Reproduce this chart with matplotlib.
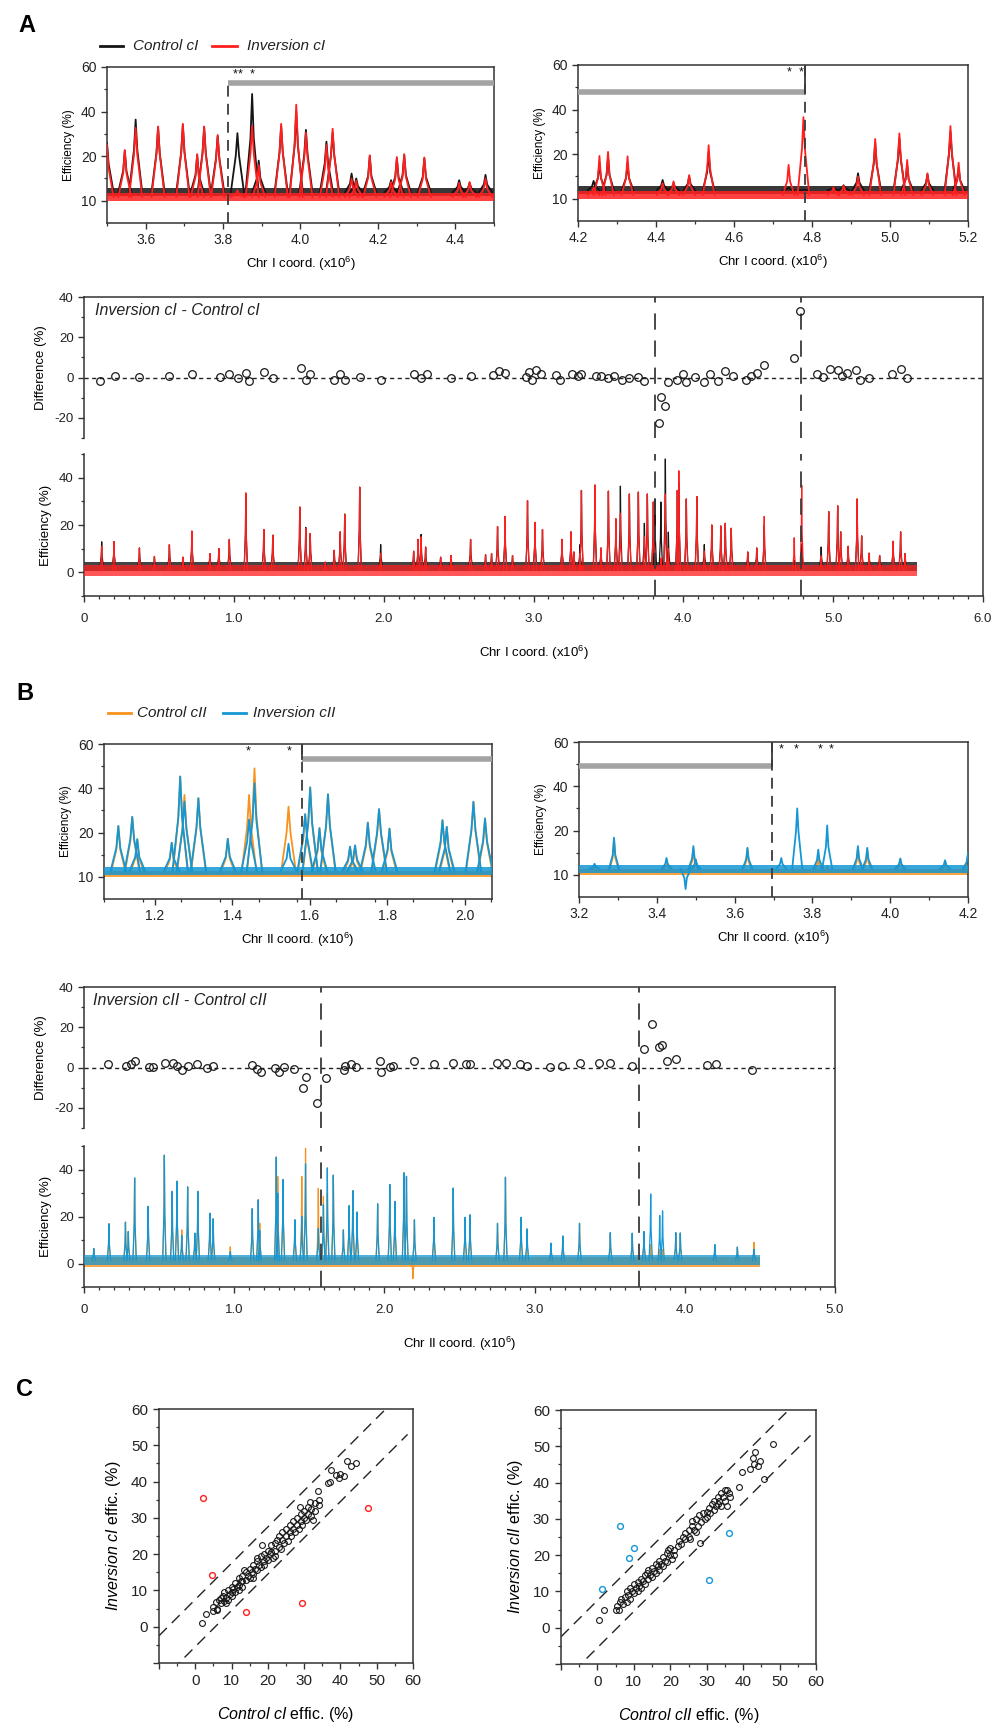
import numpy as np
import matplotlib
matplotlib.use("Agg")
import matplotlib.pyplot as plt
from matplotlib.lines import Line2D

plt.rcParams['font.family'] = ['Liberation Sans', 'DejaVu Sans']
plt.rcParams['mathtext.fontset'] = 'custom'
plt.rcParams['mathtext.rm'] = 'Liberation Sans'
plt.rcParams['mathtext.it'] = 'Liberation Sans:italic'
plt.rcParams['mathtext.default'] = 'regular'
plt.rcParams['axes.unicode_minus'] = False

# ------------------------------------------------------------------ data
# Panel A, zoom on left breakpoint (Chr I 3.5-4.5 Mb): peak positions / heights (%)
a1_pos = [3.500, 3.546, 3.574, 3.632, 3.696, 3.733, 3.751, 3.786, 3.837, 3.875, 3.892, 3.950, 3.989,
          4.014, 4.067, 4.083, 4.132, 4.144, 4.179, 4.234, 4.249, 4.268, 4.320, 4.410, 4.437, 4.478]
a1_ctrl = [26.0, 22.5, 36.4, 33.0, 34.0, 20.5, 33.0, 29.0, 30.3, 47.9, 19.0, 33.5, 40.0,
           31.8, 26.5, 30.5, 16.1, 15.0, 20.0, 14.6, 19.5, 20.5, 19.5, 14.6, 14.0, 15.8]
a1_inv = [25.0, 22.7, 32.7, 33.3, 34.5, 20.9, 33.3, 29.5, 12.3, 33.6, 18.0, 34.5, 43.1,
          30.5, 25.0, 32.3, 15.0, 14.5, 20.4, 14.2, 19.8, 20.9, 19.7, 14.0, 14.2, 15.0]
# Panel A, zoom on right breakpoint (Chr I 4.2-5.2 Mb)
a2_pos = [4.240, 4.255, 4.277, 4.327, 4.417, 4.445, 4.485, 4.535, 4.740, 4.778,
          4.855, 4.881, 4.918, 4.962, 5.024, 5.044, 5.096, 5.155, 5.176]
a2_ctrl = [14.0, 18.0, 19.5, 18.0, 14.2, 13.5, 15.0, 21.0, 12.5, 12.0,
           12.6, 13.0, 15.7, 25.0, 27.0, 17.5, 15.5, 30.0, 17.0]
a2_inv = [12.5, 19.6, 21.0, 19.5, 13.5, 13.9, 15.3, 24.0, 17.6, 36.6,
          12.6, 13.0, 15.0, 26.8, 29.3, 18.7, 15.7, 32.6, 18.1]
# Panel A, whole chromosome I
am_pos = [0.118, 0.20, 0.37, 0.47, 0.57, 0.66, 0.72, 0.84, 0.90, 0.97,
          1.08, 1.20, 1.26, 1.44, 1.48, 1.51, 1.61, 1.67, 1.71, 1.74,
          1.84, 1.98, 2.20, 2.23, 2.25, 2.28, 2.38, 2.45, 2.58, 2.68,
          2.72, 2.76, 2.81, 2.86, 2.96, 3.01, 3.06, 3.19, 3.25, 3.27,
          3.31, 3.32, 3.41, 3.45, 3.50, 3.55, 3.58, 3.64, 3.70, 3.74,
          3.76, 3.80, 3.81, 3.85, 3.88, 3.90, 3.96, 3.97, 4.02, 4.09,
          4.14, 4.19, 4.25, 4.28, 4.32, 4.43, 4.49, 4.54, 4.74, 4.79,
          4.92, 4.97, 5.03, 5.05, 5.10, 5.16, 5.19, 5.24, 5.31, 5.40,
          5.45, 5.48]
am_ctrl = [12.9, 13.0, 10.3, 6.7, 11.7, 6.4, 17.4, 7.9, 10.0, 13.9,
           33.0, 18.1, 15.7, 27.6, 19.0, 16.4, 4.3, 9.3, 17.1, 24.6,
           36.0, 11.7, 8.9, 13.9, 16.0, 10.7, 6.4, 7.1, 13.9, 7.4,
           7.9, 19.3, 23.6, 7.1, 30.3, 21.1, 18.1, 13.9, 17.1, 8.6,
           11.7, 34.6, 36.9, 10.3, 34.3, 22.6, 36.4, 33.1, 33.9, 20.7,
           33.1, 29.7, 31.0, 29.7, 47.9, 17.0, 34.6, 38.0, 31.0, 32.0,
           11.7, 20.0, 19.6, 20.7, 18.6, 8.6, 10.3, 20.0, 5.0, 12.0,
           10.7, 25.7, 28.1, 17.1, 11.0, 31.0, 15.4, 8.1, 7.1, 13.1,
           17.1, 7.9]
am_inv = [11.0, 13.0, 10.3, 6.7, 11.7, 6.4, 17.4, 7.9, 10.0, 13.9,
          33.6, 18.1, 15.7, 27.6, 18.6, 16.4, 4.3, 9.3, 17.1, 24.6,
          36.0, 8.0, 8.9, 13.9, 15.0, 10.7, 6.4, 7.1, 13.9, 7.4,
          7.9, 19.3, 23.6, 7.1, 30.3, 21.1, 18.1, 13.9, 17.1, 8.6,
          8.0, 34.6, 36.9, 10.3, 34.3, 22.6, 25.0, 33.1, 33.9, 15.0,
          33.1, 29.7, 5.0, 6.0, 33.0, 10.0, 34.6, 42.9, 31.0, 32.0,
          9.0, 20.0, 19.6, 20.7, 18.6, 8.6, 10.3, 23.6, 14.6, 36.9,
          7.0, 25.7, 28.1, 17.1, 11.0, 31.0, 15.4, 8.1, 7.1, 13.1,
          17.1, 7.9]
# Panel A difference (Inversion cI - Control cI), %
ad_x = [0.11, 0.21, 0.37, 0.57, 0.72, 0.91, 0.97, 1.03, 1.08, 1.10,
        1.20, 1.26, 1.45, 1.48, 1.51, 1.67, 1.71, 1.74, 1.84, 1.98,
        2.20, 2.25, 2.29, 2.45, 2.58, 2.73, 2.77, 2.81, 2.95, 2.97,
        2.99, 3.02, 3.05, 3.15, 3.18, 3.26, 3.30, 3.32, 3.42, 3.45,
        3.50, 3.54, 3.59, 3.64, 3.70, 3.74, 3.85, 3.88, 3.84, 3.90,
        3.96, 4.00, 4.02, 4.08, 4.14, 4.18, 4.23, 4.28, 4.33, 4.42,
        4.45, 4.49, 4.54, 4.74, 4.78, 4.89, 4.93, 4.98, 5.03, 5.06,
        5.09, 5.15, 5.18, 5.24, 5.39, 5.45, 5.49]
ad_y = [-1.6, 1.0, 0.3, 1.0, 2.0, 0.3, 2.0, 0.0, 2.3, -1.5,
        3.0, 0.0, 4.8, -1.0, 2.0, -1.0, 1.6, -1.0, 0.3, -1.0,
        1.6, 0.0, 2.0, 0.0, 1.0, 1.3, 3.3, 2.3, 0.3, 3.0,
        -1.0, 3.6, 1.6, 1.3, -1.0, 2.0, 1.0, 1.6, 1.0, 1.0,
        0.0, 1.0, -1.0, -0.3, 0.3, -1.6, -9.8, -14.0, -22.6, -2.3,
        -1.0, 2.0, -2.3, 0.3, -2.3, 2.0, -1.6, 3.3, 1.0, -1.3,
        1.0, 2.3, 6.0, 9.8, 33.0, 1.6, 0.3, 4.4, 3.6, 1.0,
        2.3, 3.6, -1.0, 0.0, 1.6, 4.3, 0.0]

# Panel B, zoom on left breakpoint (Chr II 1.07-2.07 Mb)
bt1_pos = [1.105, 1.141, 1.154, 1.243, 1.265, 1.276, 1.312, 1.388, 1.443, 1.457, 1.545, 1.588,
           1.601, 1.625, 1.647, 1.704, 1.717, 1.750, 1.779, 1.806, 1.943, 1.954, 2.023, 2.053]
bt1_ctrl = [23.0, 27.1, 18.5, 17.7, 45.3, 37.0, 35.5, 18.6, 37.0, 49.0, 31.7, 28.3,
            40.4, 22.0, 37.3, 16.8, 17.1, 24.5, 30.6, 21.8, 25.6, 22.6, 33.9, 26.4]
bt1_inv = [23.0, 27.1, 18.5, 17.7, 45.3, 34.0, 35.5, 18.6, 25.9, 42.3, 17.5, 28.3,
           40.4, 22.0, 37.3, 16.8, 17.1, 24.5, 30.6, 21.8, 25.6, 22.6, 33.9, 26.4]
# Panel B, zoom on right breakpoint (Chr II 3.2-4.2 Mb)
bt2_pos = [3.240, 3.290, 3.425, 3.474, 3.494, 3.500, 3.633, 3.720, 3.761, 3.815, 3.838, 3.917,
           3.941, 4.026, 4.141, 4.200]
bt2_ctrl = [12.0, 18.0, 13.5, 10.5, 16.0, 13.5, 16.0, 10.5, 10.5, 14.0, 12.0, 16.0,
            15.5, 13.5, 13.0, 14.5]
bt2_inv = [12.5, 18.4, 13.8, 6.8, 16.5, 13.5, 16.1, 13.8, 30.0, 15.7, 22.3, 16.5,
           16.1, 13.7, 13.3, 14.9]
# Panel B, whole chromosome II
bm_pos = [0.065, 0.166, 0.276, 0.295, 0.337, 0.427, 0.535, 0.587, 0.619, 0.651,
          0.690, 0.738, 0.758, 0.838, 0.860, 0.974, 1.120, 1.160, 1.170, 1.280,
          1.290, 1.325, 1.404, 1.450, 1.475, 1.560, 1.594, 1.620, 1.660, 1.727,
          1.765, 1.790, 1.818, 1.955, 2.036, 2.070, 2.130, 2.147, 2.190, 2.200,
          2.330, 2.458, 2.537, 2.570, 2.753, 2.806, 2.910, 2.950, 3.109, 3.188,
          3.299, 3.504, 3.650, 3.728, 3.773, 3.833, 3.852, 3.940, 3.970, 4.200,
          4.350, 4.460]
bm_ctrl = [6.4, 16.9, 17.6, 13.6, 36.4, 24.3, 46.1, 30.7, 35.0, 14.3,
           32.6, 12.9, 30.7, 21.4, 19.0, 7.1, 23.3, 27.1, 17.1, 45.3,
           37.0, 35.7, 18.6, 37.0, 49.0, 31.9, 28.6, 30.0, 37.6, 14.3,
           24.6, 31.0, 21.9, 25.4, 33.6, 26.4, 38.6, 37.1, -6.4, 18.6,
           19.6, 32.1, 19.6, 20.7, 17.1, 36.7, 19.6, 14.7, 8.6, 11.7,
           17.1, 13.1, 12.9, 13.6, 8.0, 6.0, 6.0, 13.1, 13.0, 8.0,
           7.0, 9.0]
bm_inv = [6.4, 16.9, 17.6, 13.6, 36.4, 24.3, 46.1, 30.7, 35.0, 12.0,
          32.6, 12.9, 30.7, 21.4, 19.0, 5.0, 23.3, 27.1, 14.0, 45.3,
          30.0, 35.7, 18.6, 20.0, 42.4, 15.0, 25.0, 40.7, 37.6, 14.3,
          24.6, 31.0, 21.9, 25.4, 33.6, 26.4, 38.6, 37.1, 1.0, 18.6,
          19.6, 32.1, 19.6, 20.7, 17.1, 36.7, 19.6, 14.7, 8.6, 11.7,
          17.1, 13.1, 12.9, 13.6, 29.6, 20.4, 22.4, 13.1, 13.0, 8.0,
          7.0, 6.0]
# Panel B difference (Inversion cII - Control cII), %
bd_x = [0.16, 0.28, 0.31, 0.34, 0.43, 0.46, 0.54, 0.59, 0.62, 0.65,
        0.69, 0.75, 0.82, 0.86, 1.12, 1.15, 1.18, 1.27, 1.30, 1.33,
        1.40, 1.46, 1.48, 1.55, 1.61, 1.73, 1.74, 1.78, 1.81, 1.97,
        1.98, 2.04, 2.06, 2.20, 2.33, 2.46, 2.54, 2.57, 2.75, 2.81,
        2.90, 2.95, 3.10, 3.18, 3.30, 3.43, 3.50, 3.65, 3.73, 3.78,
        3.83, 3.85, 3.88, 3.94, 4.15, 4.21, 4.45]
bd_y = [1.7, 0.8, 2.0, 3.3, 0.5, 0.5, 2.1, 2.5, 0.8, -1.2,
        0.8, 2.0, 0.0, 0.8, 1.3, -0.5, -2.1, 0.0, -2.1, 0.5,
        -0.5, -9.9, -4.5, -17.4, -5.0, -1.2, 0.8, 1.7, 0.5, 3.5,
        -2.1, 0.5, 0.8, 3.5, 1.7, 2.5, 1.7, 1.7, 2.5, 2.5,
        1.7, 1.0, 0.5, 1.0, 2.1, 2.1, 2.1, 1.0, 9.3, 21.7,
        10.4, 11.2, 3.5, 4.1, 1.3, 1.7, -1.2]

# Noise-band envelopes of the baseline (low, high), %
a_top_band_ctrl, a_top_band_inv = (11.0, 12.8), (10.0, 11.7)
a_mid_band_ctrl, a_mid_band_inv = (0.5, 4.3), (-1.5, 3.2)
b_top_band_ctrl, b_top_band_inv = (9.9, 11.3), (10.5, 12.2)
b_mid_band_ctrl, b_mid_band_inv = (-1.5, 2.8), (-0.7, 3.8)
chrI_len, chrII_len = 5.56, 4.50

# inversion breakpoints (Mb) and significance marks
a_bounds = [3.812, 4.782]
b_bounds = [1.580, 3.697]
a_star1, a_star2 = [3.830, 3.843, 3.875], [4.742, 4.772]
b_star1, b_star2 = [1.441, 1.547], [3.719, 3.758, 3.819, 3.848]

# Panel C scatter: Control vs Inversion efficiency (%)
c1_x = [1.8, 3, 4.8, 5.7, 5, 6, 6.5, 7, 7.5, 8,
        8, 8.5, 9, 9, 9.5, 10, 10, 10.5, 11, 11,
        11.5, 12, 12, 12.5, 13, 13, 13.5, 14, 14, 14.5,
        15, 15, 15.5, 16, 16, 16.5, 17, 17, 17.5, 18,
        18, 18.5, 19, 19, 19.5, 20, 20, 20.5, 21, 21,
        21.5, 22, 22, 22.5, 23, 23, 23.5, 24, 24, 24.5,
        25, 25, 25.5, 26, 26, 26.5, 27, 27, 27.5, 28,
        28, 28.5, 29, 29, 28.9, 29.5, 30, 30, 30.5, 31,
        31, 31.5, 32, 32, 32.4, 33, 33, 33.7, 34, 34,
        37.4, 38.7, 39.6, 41, 41.9, 42.8, 44.4, 36.5, 37, 40,
        6, 7, 8.5, 10, 12, 13, 16, 17, 19, 22]
c1_y = [0.9, 3.5, 4.4, 6.9, 5.5, 5, 7.5, 6.5, 8.5, 7,
        9.5, 8, 10, 7.5, 9, 11, 9.5, 10.5, 12, 9.5,
        11, 13.5, 11.5, 12.5, 14, 11, 15.5, 13, 15, 14,
        16, 13.5, 15, 17, 14.5, 16, 18, 15.5, 17, 19.5,
        16.5, 22.5, 18, 20, 19, 21, 18.5, 20, 22.5, 20.5,
        19, 23, 21, 24, 22, 25, 21.5, 24, 26, 23,
        25, 27, 23.5, 26, 28, 25, 27, 29, 26, 28,
        30, 27, 29, 31, 33, 28, 30, 32, 29.5, 31,
        33, 34.5, 30.4, 32.5, 29.5, 34, 32, 37.3, 33.5, 35,
        43.3, 41.9, 41, 41.5, 45.6, 44.2, 45, 39.5, 40, 42,
        4.5, 8, 6.5, 8.5, 10, 12.5, 13.5, 19, 17, 19.5]
c1_out_x = [2.1, 4.5, 14.1, 29.4, 47.6]
c1_out_y = [35.6, 14.3, 4.0, 6.5, 32.6]
c2_x = [0.5, 1.8, 5, 6.2, 5.5, 6, 6.5, 7, 7.5, 8,
        8, 8.5, 9, 9, 9.5, 10, 10, 10.5, 11, 11,
        11.5, 12, 12, 12.5, 13, 13, 13.5, 14, 14, 14.5,
        15, 15, 15.5, 16, 16, 16.5, 17, 17, 17.5, 18,
        18, 18.5, 19, 19, 19.5, 20, 20, 20.5, 21, 21,
        22, 22.5, 23, 23.5, 24, 24, 25, 25, 25.5, 26,
        26, 26.5, 27, 27, 27.5, 28, 28.2, 28.5, 29, 29.5,
        30, 30, 30.5, 31, 31.5, 32, 32, 32.5, 33, 33,
        33.5, 34, 34, 34.5, 35, 35, 35.6, 36, 36.5, 35.5,
        48.1, 43.3, 42.8, 44.5, 41.9, 45.8, 39.6, 38.8, 43, 44]
c2_y = [2.1, 5, 4.9, 7.2, 6, 5, 8, 6.5, 8.5, 7,
        10, 9, 11, 8, 10, 12, 9.5, 11, 12.5, 10,
        11.5, 13.5, 11, 13, 14.5, 12, 15, 13.5, 16, 14.5,
        16.5, 14, 15.5, 17.5, 15, 17, 18.5, 16, 17.5, 19.5,
        17, 18.5, 20.5, 18, 21.5, 20, 22, 19, 21.5, 20,
        22.5, 24, 23, 25, 24.5, 26, 25, 27, 24.5, 28,
        29.5, 27, 30, 26.5, 28, 31, 23.3, 29, 31.5, 30,
        32, 30.5, 33, 31.5, 34, 32.5, 35, 33.5, 36, 34,
        35, 37, 33.5, 36, 38, 35, 38, 37, 36, 33.5,
        50.7, 48.4, 46.7, 46, 43.7, 41.1, 42.9, 38.9, 45, 44.5]
c2_out_x = [6.2, 10.1, 8.7, 1.3, 30.6, 36.2]
c2_out_y = [27.9, 21.9, 19.3, 10.6, 13.2, 26.1]
c_band_hi, c_band_lo = 7.5, -5.5

for name, a, b in [('a1', a1_pos, a1_ctrl), ('a1i', a1_pos, a1_inv), ('a2', a2_pos, a2_ctrl),
                   ('a2i', a2_pos, a2_inv), ('am', am_pos, am_ctrl), ('ami', am_pos, am_inv),
                   ('ad', ad_x, ad_y), ('bt1', bt1_pos, bt1_ctrl), ('bt1i', bt1_pos, bt1_inv),
                   ('bt2', bt2_pos, bt2_ctrl), ('bt2i', bt2_pos, bt2_inv), ('bm', bm_pos, bm_ctrl),
                   ('bmi', bm_pos, bm_inv), ('bd', bd_x, bd_y), ('c1', c1_x, c1_y), ('c2', c2_x, c2_y)]:
    if len(a) != len(b):
        raise ValueError(f"length mismatch {name}: {len(a)} vs {len(b)}")

# ------------------------------------------------------------------ style
BLACK = '#151515'
RED = '#ff1f1f'
ORANGE = '#f7931e'
BLUE = '#1497d4'
GRAY = '#a3a3a3'
SPINE = '#333333'
DASH = '#3a3a3a'

W, H = 1000, 1735
fig = plt.figure(figsize=(W / 100, H / 100), dpi=100)


def rect(x0, y0, x1, y1):
    return [x0 / W, 1 - y1 / H, (x1 - x0) / W, (y1 - y0) / H]


EFF_BREAKS = [-100.0, 0.0, 10.0, 20.0, 40.0, 60.0, 200.0]
EFF_UNITS = [-10.0, 0.0, 1.0, 2.0, 3.0, 4.0, 11.0]


def fwd(v):
    v = np.asarray(v, dtype=float)
    out = np.interp(v, EFF_BREAKS, EFF_UNITS)
    return np.where(np.isnan(v), np.nan, out)


def inv_f(u):
    u = np.asarray(u, dtype=float)
    out = np.interp(u, EFF_UNITS, EFF_BREAKS)
    return np.where(np.isnan(u), np.nan, out)


def style_ax(ax, fs):
    for s in ax.spines.values():
        s.set_color(SPINE)
        s.set_linewidth(1.1)
    ax.tick_params(which='major', direction='out', length=4, width=1, colors=SPINE,
                   labelsize=fs, labelcolor='#222222')
    ax.tick_params(which='minor', direction='out', length=2.5, width=0.9, colors=SPINE)


def draw_trace(ax, x0, x1, band, pos, hts, hw, color, lw, z, band_alpha):
    ax.fill_between([x0, x1], band[0], band[1], color=color, lw=0, zorder=z, alpha=band_alpha)
    base = 0.5 * (band[0] + band[1])
    for p, h in zip(pos, hts):
        ax.plot([p - hw, p - 0.25 * hw, p, p + 0.25 * hw, p + hw],
                [base, base + 0.45 * (h - base), h, base + 0.45 * (h - base), base],
                color=color, lw=lw, zorder=z, solid_joinstyle='round')


def top_panel(px, xlim, xt, xtl, xlab, pos, ctrl, inv, bands, hw, cols,
              bound, bar_x, bar_y, stars, dash_from_top=True):
    ax = fig.add_axes(rect(*px))
    ax.set_yscale('function', functions=(fwd, inv_f))
    ax.set_xlim(*xlim)
    ax.set_ylim(5, 60)
    style_ax(ax, 10)
    ax.set_yticks([10, 20, 40, 60])
    ax.set_yticks([15, 30, 50], minor=True)
    ax.set_xticks(xt, xtl)
    ax.set_xticks(np.arange(xlim[0], xlim[1] + 1e-6, 0.1), minor=True)
    ax.set_ylabel('Efficiency (%)', fontsize=8.5, labelpad=4)
    ax.set_xlabel(xlab, fontsize=9.5, labelpad=5)
    draw_trace(ax, xlim[0], xlim[1], bands[0], pos, ctrl, hw, cols[0], 1.3, 2, 0.85)
    draw_trace(ax, xlim[0], xlim[1], bands[1], pos, inv, hw, cols[1], 1.3, 3, 0.85)
    ax.plot(bar_x, [bar_y, bar_y], color=GRAY, lw=4, solid_capstyle='butt', zorder=4)
    top = 60 if dash_from_top else bar_y
    ax.plot([bound, bound], [5, top], color=DASH, lw=1.3, ls=(0, (6, 4)), zorder=5)
    ax.plot([bound, bound], [bar_y, top], color=DASH, lw=1.3, zorder=5)
    for s in stars:
        ax.text(s, 56.5, '*', ha='center', va='center', fontsize=9, color='#111111')
    return ax


def mid_panel(px_frame, y_diff, y_eff, xmax, chr_len, pos, ctrl, inv, bands, cols,
              dx, dy, bounds, title, xlab):
    x0, y0, x1, y1 = px_frame
    fr = fig.add_axes(rect(*px_frame))
    fr.set_xlim(0, xmax)
    fr.set_ylim(0, 1)
    style_ax(fr, 9.5)
    fr.spines['left'].set_visible(False)
    fr.set_yticks([])
    fr.set_xticks(range(xmax + 1), ['0'] + [f'{i}.0' for i in range(1, xmax + 1)])
    fr.set_xticks(np.arange(0, xmax + 1e-6, 0.1), minor=True)
    fr.set_xlabel(xlab, fontsize=9.5, labelpad=14)
    fr.tick_params(axis='x', pad=8)

    ad = fig.add_axes(rect(x0, y_diff[0], x1, y_diff[1]))
    ad.set_facecolor('none')
    ad.set_xlim(0, xmax)
    ad.set_ylim(-30, 40)
    style_ax(ad, 9.5)
    for s in ['top', 'right', 'bottom']:
        ad.spines[s].set_visible(False)
    ad.set_xticks([])
    ad.set_yticks([-20, 0, 20, 40])
    ad.set_yticks([-30, -10, 10, 30], minor=True)
    ad.set_ylabel('Difference (%)', fontsize=9.5, labelpad=5)
    ad.axhline(0, color='#222222', lw=1.0, ls=(0, (3, 2.5)), zorder=1)
    ad.plot(dx, dy, 'o', mfc='none', mec='#1a1a1a', ms=5.5, mew=0.9, zorder=3, clip_on=False)
    ad.text(0.012, 0.905, title, transform=ad.transAxes, fontsize=11.5, style='italic',
            ha='left', va='center', color='#222222')

    ae = fig.add_axes(rect(x0, y_eff[0], x1, y_eff[1]))
    ae.set_facecolor('none')
    ae.set_xlim(0, xmax)
    ae.set_ylim(-10, 50)
    style_ax(ae, 9.5)
    for s in ['top', 'right', 'bottom']:
        ae.spines[s].set_visible(False)
    ae.set_xticks([])
    ae.set_yticks([0, 20, 40])
    ae.set_yticks([-10, 10, 30, 50], minor=True)
    ae.set_ylabel('Efficiency (%)', fontsize=9.5, labelpad=5)
    draw_trace(ae, 0.0, chr_len, bands[0], pos, ctrl, 0.011, cols[0], 0.9, 2, 0.8)
    draw_trace(ae, 0.0, chr_len, bands[1], pos, inv, 0.011, cols[1], 0.9, 3, 0.75)
    for b in bounds:
        ad.axvline(b, color=DASH, lw=1.3, ls=(0, (9, 6)), zorder=2)
        ae.axvline(b, color=DASH, lw=1.3, ls=(0, (9, 6)), zorder=5)
    return fr, ad, ae


def scatter_panel(px, x, y, ox, oy, ocol, xlab, ylab):
    ax = fig.add_axes(rect(*px))
    ax.set_xlim(-10, 60)
    ax.set_ylim(-10, 60)
    style_ax(ax, 11)
    t = list(range(-10, 61, 10))
    lab = [''] + [str(v) for v in range(0, 61, 10)]
    ax.set_xticks(t, lab)
    ax.set_yticks(t, lab)
    ax.set_xticks(np.arange(-5, 60, 10), minor=True)
    ax.set_yticks(np.arange(-5, 60, 10), minor=True)
    ax.tick_params(axis='both', pad=4)
    xs = np.array([-10, 58.5])
    ax.plot(xs, xs + c_band_hi, color='#222222', lw=1.0, ls=(0, (8, 5)))
    ax.plot(xs, xs + c_band_lo, color='#222222', lw=1.0, ls=(0, (8, 5)))
    ax.plot(x, y, 'o', mfc='none', mec='#1a1a1a', ms=4.2, mew=0.8)
    ax.plot(ox, oy, 'o', mfc='none', mec=ocol, ms=4.2, mew=1.0)
    ax.set_xlabel(xlab, fontsize=11.5, labelpad=12)
    ax.set_ylabel(ylab, fontsize=11.5, labelpad=6)
    return ax


# ------------------------------------------------------------------ panel A
fig.text(18 / W, 1 - 25 / H, 'A', fontsize=17, fontweight='bold', va='center', ha='left')
fig.add_artist(Line2D([100 / W, 123 / W], [1 - 46 / H] * 2, color=BLACK, lw=2))
fig.text(133 / W, 1 - 46 / H, 'Control cI', fontsize=11, style='italic', va='center', color='#222')
fig.add_artist(Line2D([212 / W, 237 / W], [1 - 46 / H] * 2, color=RED, lw=2))
fig.text(247 / W, 1 - 46 / H, 'Inversion cI', fontsize=11, style='italic', va='center', color='#222')

chrI = 'Chr I coord. (x10$^{6}$)'
chrII = 'Chr II coord. (x10$^{6}$)'

top_panel((107, 67, 494, 223), (3.5, 4.5), [3.6, 3.8, 4.0, 4.2, 4.4],
          ['3.6', '3.8', '4.0', '4.2', '4.4'], chrI, a1_pos, a1_ctrl, a1_inv,
          (a_top_band_ctrl, a_top_band_inv), 0.017, (BLACK, RED),
          a_bounds[0], [a_bounds[0], 4.5], 53, a_star1, dash_from_top=False)
top_panel((578, 65, 968, 221), (4.2, 5.2), [4.2, 4.4, 4.6, 4.8, 5.0, 5.2],
          ['4.2', '4.4', '4.6', '4.8', '5.0', '5.2'], chrI, a2_pos, a2_ctrl, a2_inv,
          (a_top_band_ctrl, a_top_band_inv), 0.015, (BLACK, RED),
          a_bounds[1], [4.2, a_bounds[1]], 48, a_star2)

mid_panel((84, 297, 983, 596), (297, 438), (454, 596), 6, chrI_len, am_pos, am_ctrl, am_inv,
          (a_mid_band_ctrl, a_mid_band_inv), (BLACK, RED), ad_x, ad_y, a_bounds,
          'Inversion cI - Control cI', chrI)

# ------------------------------------------------------------------ panel B
fig.text(16 / W, 1 - 693 / H, 'B', fontsize=17, fontweight='bold', va='center', ha='left')
fig.add_artist(Line2D([108 / W, 131 / W], [1 - 713 / H] * 2, color=ORANGE, lw=2))
fig.text(137 / W, 1 - 713 / H, 'Control cII', fontsize=11, style='italic', va='center', color='#222')
fig.add_artist(Line2D([223 / W, 246 / W], [1 - 713 / H] * 2, color=BLUE, lw=2))
fig.text(253 / W, 1 - 713 / H, 'Inversion cII', fontsize=11, style='italic', va='center', color='#222')

top_panel((104, 744, 492, 899), (1.068, 2.071), [1.2, 1.4, 1.6, 1.8, 2.0],
          ['1.2', '1.4', '1.6', '1.8', '2.0'], chrII, bt1_pos, bt1_ctrl, bt1_inv,
          (b_top_band_ctrl, b_top_band_inv), 0.020, (ORANGE, BLUE),
          b_bounds[0], [b_bounds[0], 2.071], 53.3, b_star1)
top_panel((579, 742, 968, 897), (3.2, 4.2), [3.2, 3.4, 3.6, 3.8, 4.0, 4.2],
          ['3.2', '3.4', '3.6', '3.8', '4.0', '4.2'], chrII, bt2_pos, bt2_ctrl, bt2_inv,
          (b_top_band_ctrl, b_top_band_inv), 0.013, (ORANGE, BLUE),
          b_bounds[1], [3.2, b_bounds[1]], 49.3, b_star2)

mid_panel((84, 987, 835, 1287), (987, 1128), (1146, 1287), 5, chrII_len, bm_pos, bm_ctrl, bm_inv,
          (b_mid_band_ctrl, b_mid_band_inv), (ORANGE, BLUE), bd_x, bd_y, b_bounds,
          'Inversion cII - Control cII', chrII)

# ------------------------------------------------------------------ panel C
fig.text(16 / W, 1 - 1390 / H, 'C', fontsize=17, fontweight='bold', va='center', ha='left')
scatter_panel((159, 1409, 413, 1663), c1_x, c1_y, c1_out_x, c1_out_y, RED,
              r'$\it{Control\ cI}$ effic. (%)', r'$\it{Inversion\ cI}$ effic. (%)')
scatter_panel((561, 1410, 816, 1664), c2_x, c2_y, c2_out_x, c2_out_y, BLUE,
              r'$\it{Control\ cII}$ effic. (%)', r'$\it{Inversion\ cII}$ effic. (%)')

fig.savefig('out.png', dpi=100)
